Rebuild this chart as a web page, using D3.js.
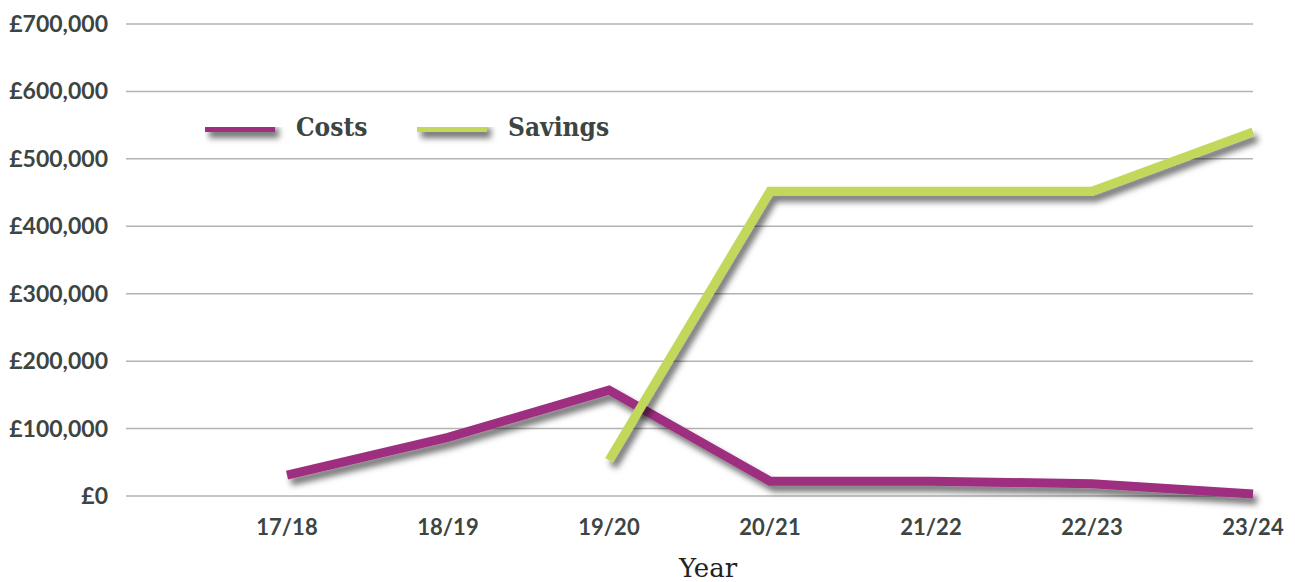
<!DOCTYPE html>
<html lang="en">
<head>
<meta charset="UTF-8">
<title>Costs and Savings</title>
<script src="https://cdn.jsdelivr.net/npm/d3@7/dist/d3.min.js"></script>
<style>
  body { margin: 0; background: #fff; }
  svg { display: block; }
</style>
</head>
<body>
<svg id="main" width="1295" height="582"></svg>
<script>
  // data
  const years = ['17/18', '18/19', '19/20', '20/21', '21/22', '22/23', '23/24'];
  const costs = [31000, 87000, 157000, 22000, 22000, 18000, 3000];
  const savings = [null, null, 53000, 452000, 452000, 452000, 540000];
  const yTicks = [0, 100000, 200000, 300000, 400000, 500000, 600000, 700000];
  const seriesNames = ['Costs', 'Savings'];
  const seriesColors = ['#9e2f80', '#c1d85a'];

  const svg = d3.select('svg#main');
  const plotLeft = 126, plotRight = 1253, plotTop = 24, plotBottom = 496;
  const ink = '#3d4543';

  // x: one empty slot before the first year, like the original
  const x = d3.scaleLinear().domain([-1, years.length - 1]).range([plotLeft, plotRight]);
  const y = d3.scaleLinear().domain([0, 700000]).range([plotBottom, plotTop]);

  const defs = svg.append('defs');
  const f = defs.append('filter').attr('id', 'shadow')
      .attr('filterUnits', 'userSpaceOnUse')
      .attr('x', 0).attr('y', 0).attr('width', 1295).attr('height', 582);
  f.append('feDropShadow').attr('dx', 4).attr('dy', 6).attr('stdDeviation', 3)
      .attr('flood-color', '#000').attr('flood-opacity', 0.55);

  // grid
  svg.append('g').selectAll('line').data(yTicks).enter().append('line')
      .attr('x1', plotLeft).attr('x2', plotRight)
      .attr('y1', d => y(d)).attr('y2', d => y(d))
      .attr('stroke', '#b3b3b3').attr('stroke-width', 1.5);

  // y axis labels
  const fmt = d3.format(',');
  svg.append('g').selectAll('text').data(yTicks).enter().append('text')
      .attr('x', 108).attr('y', d => y(d)).attr('dy', '0.35em')
      .attr('text-anchor', 'end')
      .style('font', 'bold 23px Lato, sans-serif').style('fill', ink)
      .text(d => '£' + fmt(d));

  // x axis labels
  svg.append('g').selectAll('text').data(years).enter().append('text')
      .attr('x', (d, i) => x(i)).attr('y', 535)
      .attr('text-anchor', 'middle')
      .style('font', 'bold 22px Lato, sans-serif').style('fill', ink)
      .text(d => d);

  svg.append('text').attr('x', 708).attr('y', 577).attr('text-anchor', 'middle')
      .style('font', '26px "DejaVu Serif", serif').style('fill', '#222')
      .text('Year');

  const line = d3.line()
      .defined(d => d != null)
      .x((d, i) => x(i))
      .y(d => y(d));

  svg.append('path').datum(costs).attr('d', line)
      .attr('fill', 'none').attr('stroke', seriesColors[0]).attr('stroke-width', 9)
      .attr('filter', 'url(#shadow)');
  svg.append('path').datum(savings).attr('d', line)
      .attr('fill', 'none').attr('stroke', seriesColors[1]).attr('stroke-width', 9)
      .attr('filter', 'url(#shadow)');

  // legend
  const lg = svg.selectAll('.legend').data(seriesNames).enter().append('g')
      .attr('class', 'legend')
      .attr('transform', (d, i) => 'translate(' + (205 + i * 212) + ',127)');
  lg.append('rect').attr('x', 0).attr('y', -5).attr('width', 70).attr('height', 10)
      .attr('fill', (d, i) => seriesColors[i])
      .attr('filter', 'url(#shadow)');
  lg.append('text').attr('x', 91).attr('y', 0).attr('dy', '0.35em')
      .style('font', 'bold 26px "DejaVu Serif Condensed", "DejaVu Serif", serif').style('fill', ink)
      .text(d => d);
</script>
</body>
</html>
